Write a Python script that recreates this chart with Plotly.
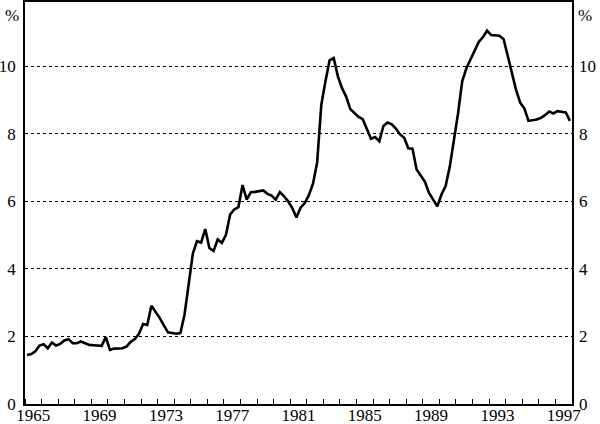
import plotly.graph_objects as go

# Quarterly series, 1965 Q1 to 1997 Q4 (per cent)
start_year = 1965
values = [
    1.45, 1.48, 1.56, 1.73,
    1.77, 1.65, 1.82, 1.73,
    1.78, 1.88, 1.92, 1.80,
    1.80, 1.85, 1.80, 1.75,
    1.74, 1.73, 1.72, 1.98,
    1.60, 1.64, 1.65, 1.65,
    1.70, 1.84, 1.92, 2.08,
    2.37, 2.34, 2.91, 2.74,
    2.55, 2.33, 2.12, 2.10,
    2.08, 2.10, 2.65, 3.55,
    4.45, 4.82, 4.78, 5.18,
    4.62, 4.53, 4.87, 4.77,
    5.01, 5.61, 5.76, 5.83,
    6.48, 6.05, 6.27, 6.28,
    6.30, 6.32, 6.22, 6.17,
    6.05, 6.27, 6.15, 6.00,
    5.80, 5.52, 5.81, 5.95,
    6.18, 6.52, 7.15, 8.85,
    9.55, 10.17, 10.24, 9.70,
    9.35, 9.10, 8.73, 8.60,
    8.50, 8.43, 8.12, 7.85,
    7.90, 7.78, 8.23, 8.33,
    8.28, 8.15, 7.98, 7.88,
    7.57, 7.56, 6.94, 6.76,
    6.58, 6.25, 6.05, 5.85,
    6.20, 6.45, 7.02, 7.75,
    8.60, 9.55, 9.93, 10.20,
    10.45, 10.72, 10.86, 11.05,
    10.92, 10.92, 10.90, 10.80,
    10.30, 9.80, 9.30, 8.92,
    8.75, 8.38, 8.40, 8.42,
    8.47, 8.55, 8.66, 8.60,
    8.67, 8.64, 8.63, 8.38,
]
quarters = [start_year + (i // 4) + (i % 4) * 0.25 + 0.125 for i in range(len(values))]

year_labels = ["1965", "1969", "1973", "1977", "1981", "1985", "1989", "1993", "1997"]
y_ticks = [0, 2, 4, 6, 8, 10]

FONT = dict(family="Liberation Serif, Times New Roman, serif", size=17, color="black")

fig = go.Figure()
fig.add_trace(go.Scatter(x=quarters, y=values, mode="lines",
                         line=dict(color="black", width=2.6),
                         hoverinfo="skip", showlegend=False))
fig.add_trace(go.Scatter(x=[None], y=[None], yaxis="y2", xaxis="x",
                         line=dict(color="black"),
                         showlegend=False, hoverinfo="skip"))

yr = [0, 11.9]
fig.update_layout(
    width=600, height=424,
    margin=dict(l=25, r=28, t=2, b=20),
    paper_bgcolor="white", plot_bgcolor="white",
    font=FONT,
    xaxis=dict(
        range=[1965, 1998],
        tickmode="array",
        tickvals=[int(s) + 0.5 for s in year_labels],
        ticktext=year_labels,
        ticks="", showgrid=False, zeroline=False,
        showline=True, linecolor="black", linewidth=1.5, mirror=True,
        minor=dict(tickmode="linear", tick0=1965, dtick=1, ticks="inside",
                   ticklen=5, tickcolor="black", tickwidth=1, showgrid=False),
        ticklabelstandoff=-5, automargin=False,
        tickfont=FONT,
    ),
    yaxis=dict(
        range=yr, tickmode="array", tickvals=y_ticks,
        ticks="", showgrid=True, gridcolor="black", gridwidth=1, griddash="dot",
        zeroline=False, showline=True, linecolor="black", linewidth=1.5, mirror=True,
        ticklabelstandoff=4, automargin=False, tickfont=FONT,
    ),
    yaxis2=dict(
        range=yr, tickmode="array", tickvals=y_ticks, overlaying="y", side="right",
        ticks="", showgrid=False, zeroline=False, showline=False,
        ticklabelstandoff=6, automargin=False, tickfont=FONT, color="black",
    ),
    annotations=[
        dict(text="%", xref="paper", yref="paper", x=0, y=1, xanchor="right",
             yanchor="top", xshift=-4, yshift=-2, showarrow=False, font=FONT),
        dict(text="%", xref="paper", yref="paper", x=1, y=1, xanchor="left",
             yanchor="top", xshift=4, yshift=-2, showarrow=False, font=FONT),
    ],
)

fig.write_html("out.html", config={"displayModeBar": False},
               post_script="document.body.style.margin='0';document.body.style.padding='0';")
